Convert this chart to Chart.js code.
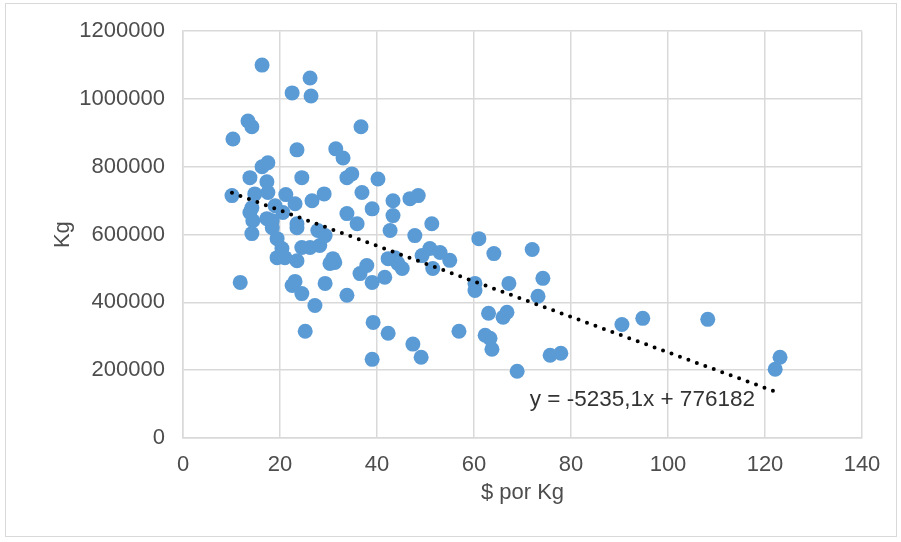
<!DOCTYPE html>
<html>
<head>
<meta charset="utf-8">
<script src="https://cdn.jsdelivr.net/npm/chart.js@4.4.1/dist/chart.umd.min.js"></script>
<style>
    html, body { margin: 0; padding: 0; background: #fff; }
    #wrap { position: relative; width: 901px; height: 542px; }
    #frame { position: absolute; left: 5px; top: 3px; width: 890px; height: 532px; border: 1px solid #d9d9d9; pointer-events: none; }
    canvas { position: absolute; left: 0; top: 0; }
</style>
</head>
<body>
<div id="wrap">
    <canvas id="priceChart" width="901" height="542"></canvas>
    <div id="frame"></div>
</div>
<script>
// $ por Kg vs Kg
const pricePerKg = [
    16.3, 26.2, 22.5, 26.4, 13.4, 14.2, 10.3, 36.7, 23.5, 31.5,
    33.0, 16.3, 17.5, 33.8, 34.8, 40.2, 13.8, 24.5, 17.3, 10.1,
    14.8, 17.5, 21.2, 23.1, 26.6, 29.1, 36.9, 39.0, 33.8, 14.2,
    13.8, 19.0, 14.4, 18.4, 20.6, 23.5, 17.3, 14.2, 18.4, 19.4,
    20.4, 19.4, 21.0, 23.5, 23.5, 24.5, 26.2, 28.2, 27.8, 29.3,
    11.8, 22.5, 23.1, 24.5, 27.2, 29.3, 30.3, 30.9, 25.2, 43.3,
    46.8, 48.5, 35.9, 43.3, 42.7, 51.3, 47.8, 31.3, 36.5, 37.9,
    39.0, 41.6, 33.8, 42.3, 43.7, 45.2, 44.3, 49.3, 50.9, 53.0,
    55.0, 51.5, 39.2, 42.3, 39.0, 47.4, 49.1, 56.9, 61.0, 64.1,
    72.0, 74.2, 73.2, 67.2, 60.2, 60.2, 63.0, 66.0, 66.8, 62.3,
    63.3, 63.7, 68.9, 75.7, 77.9, 90.5, 94.8, 108.2, 123.1, 122.1
];
const kilos = [
    1100000, 1062000, 1018000, 1009000, 935000, 918000, 882000, 918000, 850000, 853000,
    826000, 800000, 812000, 768000, 779000, 764000, 768000, 768000, 756000, 715000,
    720000, 724000, 718000, 691000, 700000, 720000, 724000, 676000, 662000, 679000,
    665000, 685000, 641000, 641000, 665000, 632000, 647000, 603000, 620000, 588000,
    559000, 532000, 532000, 523000, 620000, 562000, 562000, 568000, 612000, 597000,
    459000, 450000, 462000, 426000, 391000, 456000, 515000, 529000, 315000, 700000,
    706000, 715000, 632000, 656000, 612000, 632000, 597000, 518000, 485000, 509000,
    459000, 474000, 421000, 529000, 532000, 500000, 515000, 538000, 559000, 547000,
    524000, 500000, 341000, 309000, 232000, 277000, 238000, 315000, 588000, 544000,
    556000, 471000, 418000, 456000, 456000, 435000, 368000, 356000, 371000, 303000,
    294000, 262000, 197000, 244000, 250000, 335000, 353000, 350000, 238000, 203000
];

// linear trend as given on the chart
const trendSlope = -5235.1;
const trendIntercept = 776182;
const trendLabel = 'y = -5235,1x + 776182';

const xTicks = [0, 20, 40, 60, 80, 100, 120, 140];
const yTicks = [0, 200000, 400000, 600000, 800000, 1000000, 1200000];

const gridColor = '#d9d9d9';
const textColor = '#4d4d4d';
const fontFamily = '"Liberation Sans", Arial, sans-serif';

function buildPoints() {
    return pricePerKg.map((x, i) => ({x: x, y: kilos[i]}));
}

function buildTrend() {
    const xMin = Math.min(...pricePerKg);
    const xMax = Math.max(...pricePerKg);
    return [
        {x: xMin, y: trendSlope * xMin + trendIntercept},
        {x: xMax, y: trendSlope * xMax + trendIntercept}
    ];
}

// writes the equation under the right end of the trend line
const equationLabel = {
    id: 'equationLabel',
    afterDatasetsDraw(chart) {
        const ctx = chart.ctx;
        const xs = chart.scales.x;
        const ys = chart.scales.y;
        ctx.save();
        ctx.font = '22.5px ' + fontFamily;
        ctx.fillStyle = '#333';
        ctx.textAlign = 'left';
        ctx.textBaseline = 'middle';
        ctx.fillText(trendLabel, xs.getPixelForValue(71.5), ys.getPixelForValue(114000));
        ctx.restore();
    }
};

const ctx = document.getElementById('priceChart').getContext('2d');
const priceChart = new Chart(ctx, {
    type: 'scatter',
    data: {
        datasets: [{
            label: 'Tendencia',
            type: 'line',
            data: buildTrend(),
            borderColor: '#000',
            borderWidth: 4,
            borderDash: [0, 9],
            borderCapStyle: 'round',
            pointRadius: 0,
            fill: false,
            order: 0
        }, {
            label: 'Kg',
            data: buildPoints(),
            backgroundColor: '#5b9bd5',
            borderColor: '#5b9bd5',
            borderWidth: 0,
            pointRadius: 7.5,
            order: 1
        }]
    },
    options: {
        responsive: false,
        animation: false,
        events: [],
        layout: {
            padding: {left: 0, right: 39, top: 30, bottom: 0}
        },
        plugins: {
            legend: {display: false},
            tooltip: {enabled: false}
        },
        scales: {
            x: {
                type: 'linear',
                min: 0,
                max: 140,
                afterBuildTicks: axis => { axis.ticks = xTicks.map(v => ({value: v})); },
                afterFit: axis => { axis.height = 104; },
                grid: {color: gridColor, lineWidth: 1.5, drawTicks: false},
                border: {color: gridColor, width: 1.5},
                ticks: {
                    color: textColor,
                    padding: 14,
                    font: {family: fontFamily, size: 22}
                },
                title: {
                    display: true,
                    text: '$ por Kg',
                    color: textColor,
                    font: {family: fontFamily, size: 22},
                    padding: {top: 0, bottom: 36}
                }
            },
            y: {
                type: 'linear',
                min: 0,
                max: 1200000,
                afterBuildTicks: axis => { axis.ticks = yTicks.map(v => ({value: v})); },
                afterFit: axis => { axis.width = 183; },
                grid: {color: gridColor, lineWidth: 1.5, drawTicks: false},
                border: {color: gridColor, width: 1.5},
                ticks: {
                    color: textColor,
                    padding: 18,
                    font: {family: fontFamily, size: 22},
                    callback: v => String(v)
                },
                title: {
                    display: true,
                    text: 'Kg',
                    color: textColor,
                    font: {family: fontFamily, size: 22},
                    padding: {top: 50, bottom: 0}
                }
            }
        }
    },
    plugins: [equationLabel]
});
</script>
</body>
</html>
